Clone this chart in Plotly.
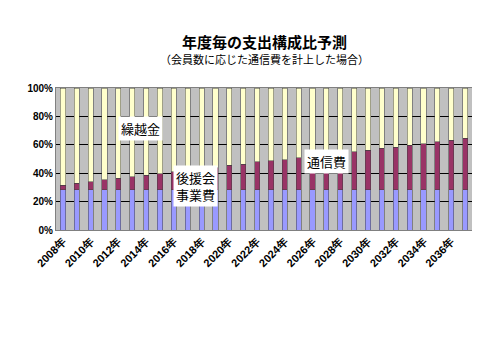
import plotly.graph_objects as go

years = [f"{y}年" for y in range(2008, 2038)]
tick_labels = [f"{y}年" for y in range(2008, 2038, 2)]
support = [28.5] * 30
comm_top = [31.5, 32.9, 34.0, 35.4, 36.3, 37.5, 38.4, 39.6, 41.2, 42.4, 43.0, 44.0, 45.6,
            46.3, 47.9, 48.6, 49.5, 50.9, 52.1, 53.0, 54.0, 55.2, 56.3, 57.6, 58.3, 59.7,
            60.9, 62.0, 63.2, 64.6]
comm = [round(t - s, 1) for t, s in zip(comm_top, support)]
carry = [round(100 - t, 1) for t in comm_top]

font = "Noto Sans CJK JP"
PH = 142  # plot height in px
fig = go.Figure()
line = dict(width=0.5, color="#404040")
fig.add_bar(x=years, y=support, name="後援会事業費", marker_color="#9999ff", marker_line=line)
fig.add_bar(x=years, y=comm, name="通信費", marker_color="#993366", marker_line=line)
fig.add_bar(x=years, y=carry, name="繰越金", marker_color="#ffffcc", marker_line=line)

fig.update_layout(
    barmode="stack", bargap=0.63, width=472, height=352,
    margin=dict(l=48, r=8, t=80, b=130, autoexpand=False),
    paper_bgcolor="white", plot_bgcolor="#c0c0c0", showlegend=False,
    font=dict(family=font, color="black"),
    annotations=[
        dict(text="<b>年度毎の支出構成比予測</b>", x=0.5, y=1 + (88 - 41) / PH, xref="paper",
             yref="paper", yanchor="middle", showarrow=False, font=dict(size=15)),
        dict(text="（会員数に応じた通信費を計上した場合）", xref="paper", yref="paper",
             x=0.5, y=1 + (88 - 59) / PH, yanchor="middle", showarrow=False, font=dict(size=11)),
        dict(text="繰越金", xref="paper", yref="paper", x=(118 - 56) / 416, y=(230 - 116) / PH,
             showarrow=False, bgcolor="white", font=dict(size=13), borderpad=2),
        dict(text="後援会<br>事業費", xref="paper", yref="paper", x=(195 - 56) / 416,
             y=(230 - 207) / PH, showarrow=False, bgcolor="white", font=dict(size=13),
             borderpad=2),
        dict(text="通信費", xref="paper", yref="paper", x=(349 - 56) / 416, y=(230 - 161) / PH,
             showarrow=False, bgcolor="white", font=dict(size=13), borderpad=2),
    ],
)

fig.update_xaxes(type="category", tickmode="array", tickvals=tick_labels, ticktext=tick_labels,
                 tickangle=-45, automargin=False,
                 tickfont=dict(size=11, family="Liberation Sans", weight="bold"),
                 showline=True, linecolor="#808080", mirror=True, ticks="")
fig.update_yaxes(range=[0, 100], tickvals=[0, 20, 40, 60, 80, 100], automargin=False,
                 ticktext=["0%", "20%", "40%", "60%", "80%", "100%"],
                 tickfont=dict(size=10, family="Liberation Sans", weight="bold"),
                 showgrid=True, gridcolor="black", gridwidth=1, zeroline=False,
                 showline=True, linecolor="#808080", mirror=True, ticks="", ticklen=0)
fig.write_html("out.html")
